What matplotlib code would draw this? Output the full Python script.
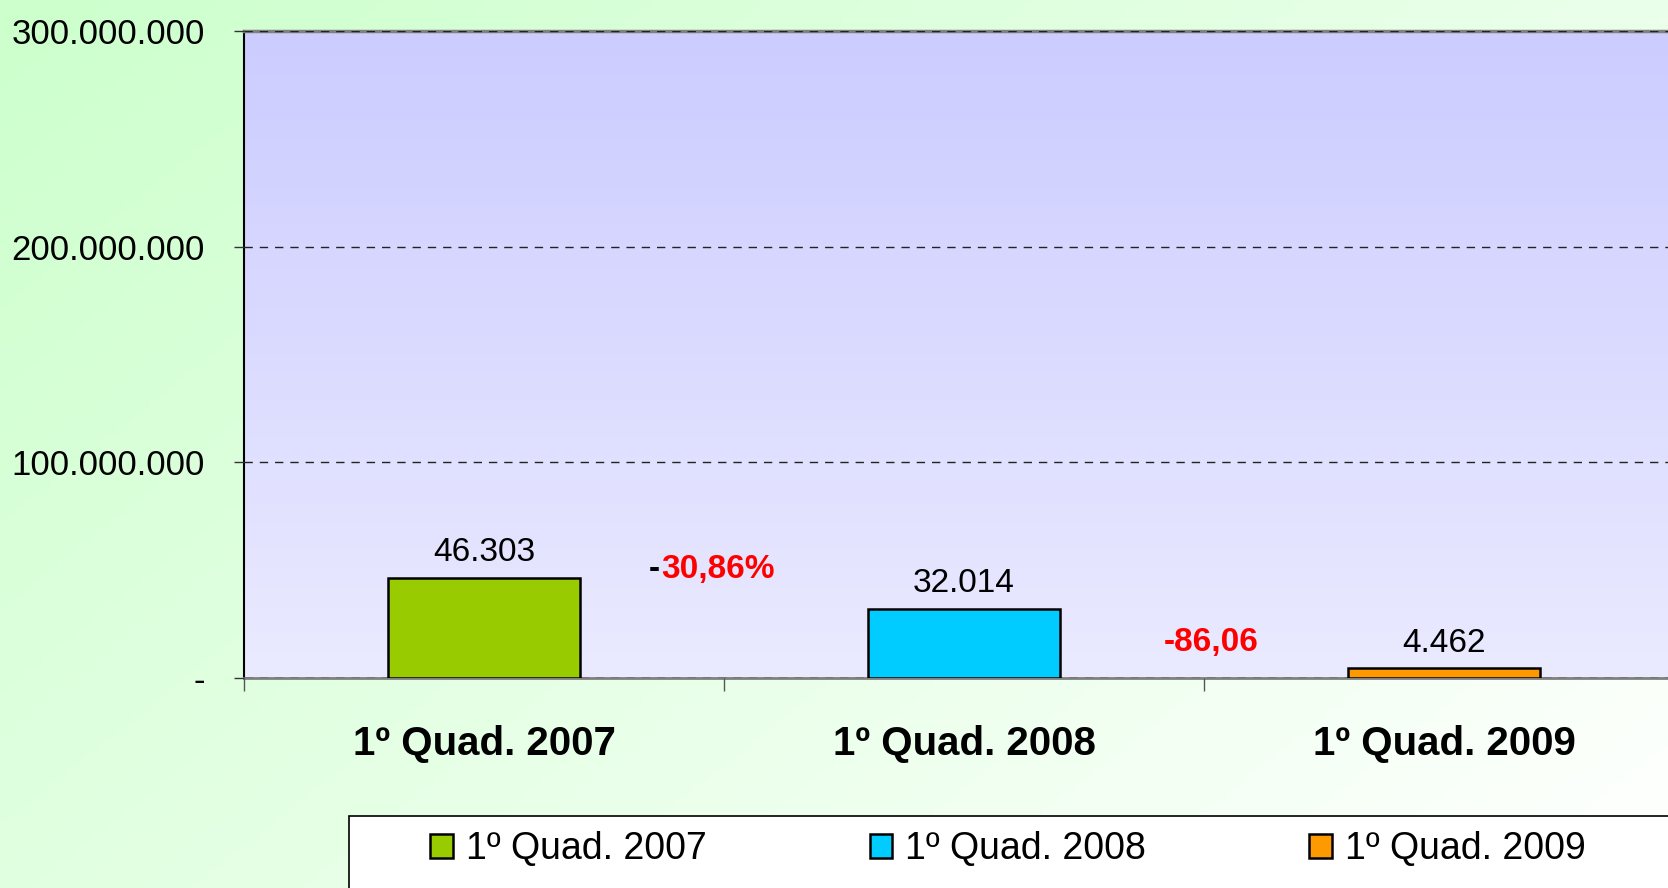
import matplotlib
matplotlib.use("Agg")
import matplotlib.pyplot as plt
import numpy as np
from matplotlib.colors import LinearSegmentedColormap
from matplotlib.ticker import FuncFormatter
from matplotlib.patches import Rectangle

plt.rcParams['font.family'] = ['Liberation Sans', 'DejaVu Sans']

# dados
categorias = ['1º Quad. 2007', '1º Quad. 2008', '1º Quad. 2009']
valores = [46303000, 32014000, 4462000]
cores = ['#99CC00', '#00CCFF', '#FF9900']
variacoes = ['30,86%', '-86,06']
var_pos = [(0.37, 50.5e6), (1.515, 16.5e6)]
yticks = [0, 100000000, 200000000, 300000000]

fig = plt.figure(figsize=(16.68, 8.88), dpi=100)

# fundo verde em degradê (canto superior esquerdo mais verde)
bg = fig.add_axes([0, 0, 1, 1], zorder=-10)
xx, yy = np.meshgrid(np.linspace(0, 1, 200), np.linspace(0, 1, 200))
grad = xx * 0.6 + yy * 0.4
cm_bg = LinearSegmentedColormap.from_list('bg', ['#CCFFCC', '#FFFFFF'])
bg.imshow(grad, cmap=cm_bg, aspect='auto', extent=[0, 1, 0, 1], origin='upper')
bg.axis('off')

W, H = 1668.0, 888.0
ax = fig.add_axes([244 / W, 1 - 678 / H, 1440 / W, 647 / H])
ax.set_facecolor('none')

x = np.arange(len(categorias))
ax.set_xlim(-0.5, 2.5)
ax.set_ylim(0, 300000000)

# área de plotagem em degradê
cm_pa = LinearSegmentedColormap.from_list('pa', ['#CCCCFF', '#EAEAFF'])
ax.imshow(np.linspace(0, 1, 100).reshape(-1, 1), cmap=cm_pa, aspect='auto',
          extent=[-0.5, 2.5, 0, 300000000], origin='upper', zorder=0)

barras = ax.bar(x, valores, width=0.4, color=cores, edgecolor='black',
                linewidth=1.8, zorder=3)

for xi, v in zip(x, valores):
    txt = f"{v / 1000:,.0f}".replace(',', '.')
    ax.annotate(txt, (xi, v), xytext=(0, 7), textcoords='offset points',
                ha='center', va='bottom', fontsize=24, color='black')

# variações percentuais
ax.text(var_pos[0][0], var_pos[0][1], variacoes[0], color='red', fontsize=24,
        fontweight='bold', ha='left', va='center', zorder=4)
ax.annotate('-', (var_pos[0][0], var_pos[0][1]), xytext=(-1, 0),
            textcoords='offset points', ha='right', va='center', fontsize=24,
            fontweight='bold', color='black')
ax.text(var_pos[1][0], var_pos[1][1], variacoes[1], color='red', fontsize=24,
        fontweight='bold', ha='center', va='center', zorder=4)

# eixos
ax.set_yticks(yticks)
ax.yaxis.set_major_formatter(FuncFormatter(
    lambda v, p: '-' if v == 0 else f"{v:,.0f}".replace(',', '.')))
ax.tick_params(axis='y', labelsize=25, length=7.2, width=1, pad=21, color='#333333')
ax.yaxis.grid(True, linestyle=(0, (6, 5)), color='#222222', linewidth=1)
ax.set_axisbelow(False)

ax.set_xticks([-0.5, 0.5, 1.5, 2.5])
ax.set_xticklabels([])
ax.tick_params(axis='x', which='major', length=9.4, width=1, color='#555555')
ax.set_xticks(x, minor=True)
ax.set_xticklabels(categorias, minor=True, fontsize=29, fontweight='bold')
ax.tick_params(axis='x', which='minor', length=0, pad=34)

ax.spines['left'].set_color('black')
ax.spines['left'].set_linewidth(1.5)
ax.spines['bottom'].set_color('#808080')
ax.spines['bottom'].set_linewidth(2)
ax.spines['top'].set_color('#808080')
ax.spines['top'].set_linewidth(2.5)
ax.spines['right'].set_visible(False)

# legenda
caixa = Rectangle((349 / W, -0.05), 1.0, (888 - 816) / H + 0.05,
                  transform=fig.transFigure, facecolor='white',
                  edgecolor='black', linewidth=1.2, zorder=5)
fig.patches.append(caixa)
leg = fig.legend(barras, categorias, loc='center left',
                 bbox_to_anchor=(415 / W, 1 - 849 / H), ncol=3, frameon=False,
                 fontsize=27, handlelength=0.6, handleheight=0.6,
                 handletextpad=0.35, columnspacing=4.35, borderaxespad=0)
leg.set_zorder(6)

fig.savefig('out.png', dpi=100)
